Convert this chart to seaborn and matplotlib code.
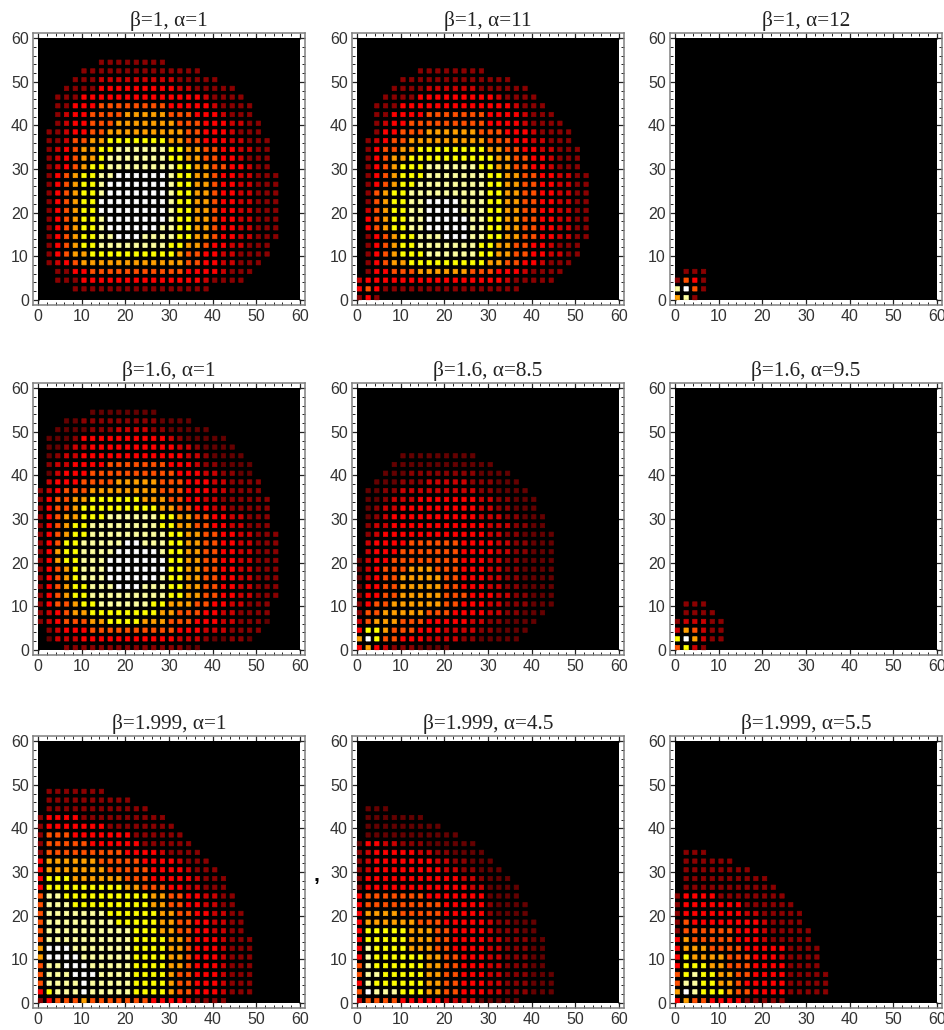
import numpy as np
import matplotlib
matplotlib.use("Agg")
import matplotlib.pyplot as plt
from matplotlib.colors import ListedColormap
from matplotlib.ticker import MultipleLocator
import seaborn as sns

# rows go from y=0 upward, each char is one cell at x=0,2,4...  '.' = empty
B1_A1 = [
    "",
    "....2222222222222222",
    "..2224444444444444432222",
    "..22445555555555544443222",
    ".2345666666666666554433222",
    ".24566777777777765544332222",
    ".24567788888888776654433222",
    ".245677889998888776654433222",
    ".245677899999988776654433222",
    ".245677899999998776654433222",
    ".245677999999998776654433222",
    ".245677999999998776654433222",
    ".245677899999998776654433222",
    ".245677899999998776654433222",
    ".245677889999998776654433222",
    ".23456778888888877665544322",
    ".23456678888888776655443222",
    ".23456677888888776655443322",
    ".22355667777777665544433222",
    ".2234455666666666554443222",
    "..234455566666665554443322",
    "..23445555666665554443222",
    "..22444555555554444432222",
    "..2224444444444444432222",
    "...22224444444443322222",
    "....22233333333322222",
    ".....22222222222222",
    ".......22222222",
]
B1_A11 = [
    "242",
    "4542222222222222222",
    "34444444444444444322222",
    ".24455566666655544432222",
    ".245667777777776655443222",
    ".2456777888888776655443322",
    ".2456778888888776655443222",
    ".24567788899988776655443322",
    ".45677889999988776655443322",
    ".45677889999988776655443322",
    ".35677889999888776655443322",
    ".25677889999888776655443322",
    ".25677888888888776655443322",
    ".24567788888888776655443322",
    ".24567778888888776655443322",
    ".2456777888888776655443222",
    ".2456677777777776655443222",
    ".2455667777777766554433222",
    ".234556666666665554433222",
    "..24455566666655544432222",
    "..2344555555555444432222",
    "..224444555555544443222",
    "..22244444444444443222",
    "...222244444444432222",
    "....2222333333222222",
    ".....2222222222222",
    ".......22222222",
]
B1_A12 = ["682", "8952", "2542", ".222"]
B16_A1 = [
    "...2222222222222211",
    ".133344444444444333211221",
    ".2344455555555554443332222",
    "234555667777666555444332221",
    "234566777777776655544332222",
    "245567788888877666554433222",
    "2456778888888887766554433222",
    "2456778889998887766554433222",
    "2456788899999987766554433222",
    "2456788899999997766554433222",
    "2467788899999997766554433222",
    "2467788889999987766554433222",
    "2457788888998887766554433222",
    "2456778888888887766554433222",
    "245677888888887766554433222",
    "245667778888887766554433222",
    "245567777777776655443322222",
    "245566777777666554433222222",
    "23455566666666555444332222",
    ".3444555566666555444332222",
    ".134445555555555444332211",
    ".233444455555554443221111",
    ".12334444444444443321111",
    ".1123344444444443321111",
    ".111244444444443211111",
    "..111122233332211111",
    "...112222222221111",
    "......11111111",
]
B16_A85 = [
    "46432221111",
    "6975544433332211111",
    "47765554443333221111",
    "356665554444433221111",
    "2556666655544443322111",
    "24556666665544433222111",
    "24455666665554443322111",
    "14455666665544433221111",
    "13455666665544433221111",
    "13455566655544433221111",
    "13445555555544433221111",
    ".3444555555544443322111",
    ".3444455555544443322111",
    ".2344444444444433221111",
    ".233444444444443332211",
    ".123444444444433322111",
    ".12334444444443322111",
    ".11233344444443322111",
    ".1122333333333221111",
    "..11122233333222111",
    "...111222222221111",
    "....111111111111",
    ".....111111111",
]
B16_A95 = ["5732", "796322", "365322", "233322", ".2222", ".222"]
B2_A1 = [
    "2455565555555444432222",
    "4788898888877776554443222",
    "5888898888877776554443222",
    "5888999888877776554443222",
    "5889998888877776654443222",
    "6999988888877776654443222",
    "6999888888877776654443222",
    "5888888888877776654443222",
    "588888888887776655443322",
    "588888888777776655443322",
    "588888887777776655443322",
    "58887777777776655443322",
    "58877777777776655443322",
    "4777777777665554433222",
    "4777666666555444443222",
    "466666665555544443222",
    "46666665555544443222",
    "2555555555444432222",
    "255555444444222222",
    "25554444444222222",
    "2444444422222222",
    "244442222222222",
    ".222222222222",
    ".2222222222",
    ".2222222",
]
B2_A45 = [
    "3555544444333311111",
    "59888777665544433222111",
    "48777777665544433222111",
    "58877777665544433222111",
    "5877777766554443322211",
    "4877777766554443322211",
    "4877776665544443322211",
    "4777776665544443322211",
    "477777666554444322211",
    "466666655544444322111",
    "46666555554444421111",
    "45555555554444421111",
    "4555555544444441111",
    "2444444444444331111",
    "244444444444332111",
    "23444444443322111",
    "2344444443322111",
    "234444433221111",
    "14433222111111",
    ".11111111111",
    ".111111111",
    ".1111111",
    ".111",
]
B2_A55 = [
    "4655444422222",
    "698777655444422222",
    "588776654444422222",
    "578776655444422222",
    "47776655544442222",
    "47666655544432222",
    "46665555444442222",
    "4655555444322222",
    "2555555444322222",
    "254444444432222",
    "244444443322222",
    "24444444222222",
    "2444422222222",
    ".22222222222",
    ".2222222222",
    ".22222222",
    ".222222",
    ".222",
]

PANELS = [B1_A1, B1_A11, B1_A12, B16_A1, B16_A85, B16_A95, B2_A1, B2_A45, B2_A55]
TITLES = ["β=1, α=1", "β=1, α=11", "β=1, α=12",
          "β=1.6, α=1", "β=1.6, α=8.5", "β=1.6, α=9.5",
          "β=1.999, α=1", "β=1.999, α=4.5", "β=1.999, α=5.5"]
LEVEL_COLORS = ["#000000", "#650000", "#8b0000", "#cc0000", "#ff0000",
                "#ff5000", "#ffa000", "#ffff00", "#ffffa0", "#ffffff"]

# panel frames in pixels
LEFTS = [33, 352, 670]
TOPS = [33, 383, 736]
SIZE = 272
W, H = 945, 1030


def to_matrix(rows):
    m = np.zeros((60, 60))
    for j, row in enumerate(rows):
        for k, c in enumerate(row):
            if c != ".":
                m[2 * j, 2 * k] = int(c)
    return m


sns.set_theme(style="white")
plt.rcParams["font.family"] = ["Liberation Sans", "DejaVu Sans"]
cmap = ListedColormap(LEVEL_COLORS)

fig = plt.figure(figsize=(W / 100, H / 100), dpi=100, facecolor="white")
for i, rows in enumerate(PANELS):
    left = LEFTS[i % 3]
    top = TOPS[i // 3]
    ax = fig.add_axes([left / W, 1 - (top + SIZE) / H, SIZE / W, SIZE / H])
    m = to_matrix(rows)
    # black base first, then the lit cells slightly grown so they read as solid squares
    sns.heatmap(np.zeros_like(m), ax=ax, cmap=cmap, vmin=-0.5, vmax=9.5, cbar=False,
                xticklabels=False, yticklabels=False)
    sns.heatmap(m, mask=m == 0, ax=ax, cmap=cmap, vmin=-0.5, vmax=9.5, cbar=False,
                xticklabels=False, yticklabels=False, antialiased=True, snap=False,
                linewidths=0.5, linecolor="face")
    ax.set_xlim(-1.2, 61.2)
    ax.set_ylim(-1.2, 61.2)
    ax.set_facecolor("white")
    ax.set_xticks(range(0, 61, 10))
    ax.set_yticks(range(0, 61, 10))
    ax.set_xticklabels(range(0, 61, 10))
    ax.set_yticklabels(range(0, 61, 10))
    ax.xaxis.set_minor_locator(MultipleLocator(2))
    ax.yaxis.set_minor_locator(MultipleLocator(2))
    ax.tick_params(which="major", direction="in", length=4.5, width=0.9, color="#222222",
                   top=True, right=True, bottom=True, left=True,
                   labelsize=11.5, labelcolor="#333333", pad=3)
    ax.tick_params(which="minor", direction="in", length=2.3, width=0.7, color="#222222",
                   top=True, right=True, bottom=True, left=True)
    for s in ax.spines.values():
        s.set_visible(True)
        s.set_color("#808080")
        s.set_linewidth(1.1)
    ax.set_title(TITLES[i], family=["Liberation Serif", "DejaVu Serif"], fontsize=15.3,
                 color="#222222", pad=5)

fig.text(316 / W, 1 - 875 / H, ",", family="Liberation Sans", fontsize=15, fontweight="bold",
         color="black", ha="center", va="center")

fig.savefig("out.png", dpi=100)
